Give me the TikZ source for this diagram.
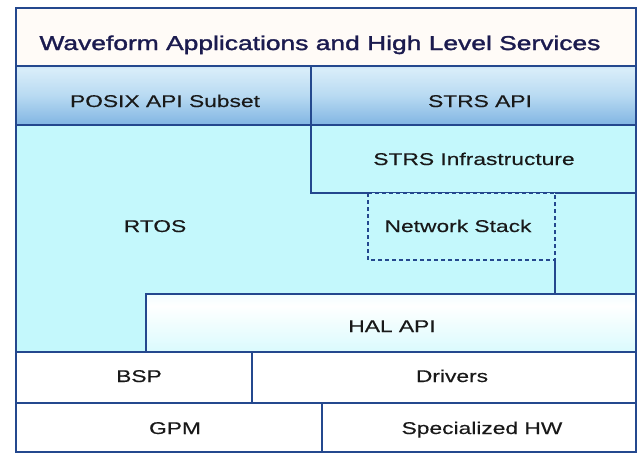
\documentclass[tikz,border=0pt]{standalone}
\usepackage{fontspec}
\setmainfont{Liberation Sans}
\newfontfamily\widefont[FakeStretch=1.34, FakeBold=0.3]{Liberation Sans}
\newfontfamily\titlefont[FakeStretch=1.32, FakeBold=1.6]{Liberation Sans}
\usepackage{xcolor}
\usetikzlibrary{calc}

\definecolor{edge}{HTML}{24488E}
\definecolor{rtos}{HTML}{C4F8FC}
\definecolor{titletext}{HTML}{1B1B4F}
\definecolor{apibot}{HTML}{3C7FC6}
\definecolor{apilow}{HTML}{6BA6DC}
\definecolor{apimid}{HTML}{B8DAF2}
\definecolor{apilight}{HTML}{D8EDF9}
\definecolor{apihigh}{HTML}{A4CCEC}
\definecolor{apitop}{HTML}{5893D2}

\pgfdeclareverticalshading{apirow}{100bp}{color(0bp)=(apibot); color(15bp)=(apilow); color(50bp)=(apimid); color(72bp)=(apilight); color(86bp)=(apihigh); color(100bp)=(apitop)}
\pgfdeclareverticalshading{halrow}{100bp}{color(0bp)=(rtos); color(30bp)=(rtos!55!white); color(65bp)=(white); color(88bp)=(rtos!50!white); color(100bp)=(rtos!70!white)}

\begin{document}
\begin{tikzpicture}[x=1pt, y=-1pt,
		layer/.style={draw=edge, line width=1.3pt},
		lbl/.style={anchor=base, font=\widefont\fontsize{17}{20}\selectfont, text=black!90}]
		\useasboundingbox (0,0) rectangle (640,453);
		\fill [white] (0,0) rectangle (640,453);
		
		\def\L{16};
		\def\R{636};
		
		%top layers
		\draw [layer, fill=white!97!orange] (\L,8) rectangle (\R,66);
		\draw [layer, shading=apirow] (\L,66) rectangle (311,125);
		\draw [layer, shading=apirow] (311,66) rectangle (\R,125);
		
		%rtos area
		\draw [layer, fill=rtos] (\L,125) rectangle (\R,352);
		\draw [layer, fill=rtos] (311,125) rectangle (\R,193);
		\draw [edge, line width=1.1pt, dash pattern=on 4pt off 3pt, fill=rtos] (368,193) rectangle (555,260);
		\coordinate (stack corner) at (555,260);
		\draw [layer, shading=halrow] (146,294) rectangle (\R,352);
		\draw [layer] (stack corner) -- (stack corner |- 0,294);
		
		%hardware layers
		\draw [layer, fill=white] (\L,352) rectangle (252,403);
		\draw [layer, fill=white] (252,352) rectangle (\R,403);
		\draw [layer, fill=white] (\L,403) rectangle (322,452);
		\draw [layer, fill=white] (322,403) rectangle (\R,452);
		\draw [edge, line width=2.2pt] (\R,8) -- (\R,452);
		
		%labels
		\node (title) at (320,50) [anchor=base, font=\titlefont\fontsize{20}{24}\selectfont, text=titletext] {Waveform Applications and High Level Services};
		\node (posix) at (165,107) [lbl] {POSIX API Subset};
		\node (strs api) at (480,107) [lbl] {STRS API};
		\node (strs infra) at (474,165) [lbl] {STRS Infrastructure};
		\node (rtos) at (155,232) [lbl] {RTOS};
		\node (net stack) at (458,232) [lbl] {Network Stack};
		\node (hal) at (392,332) [lbl] {HAL API};
		\node (bsp) at (139,382) [lbl] {BSP};
		\node (drivers) at (452,382) [lbl] {Drivers};
		\node (gpm) at (175,434) [lbl] {GPM};
		\node (spec hw) at (482,434) [lbl] {Specialized HW};
	\end{tikzpicture}
\end{document}
